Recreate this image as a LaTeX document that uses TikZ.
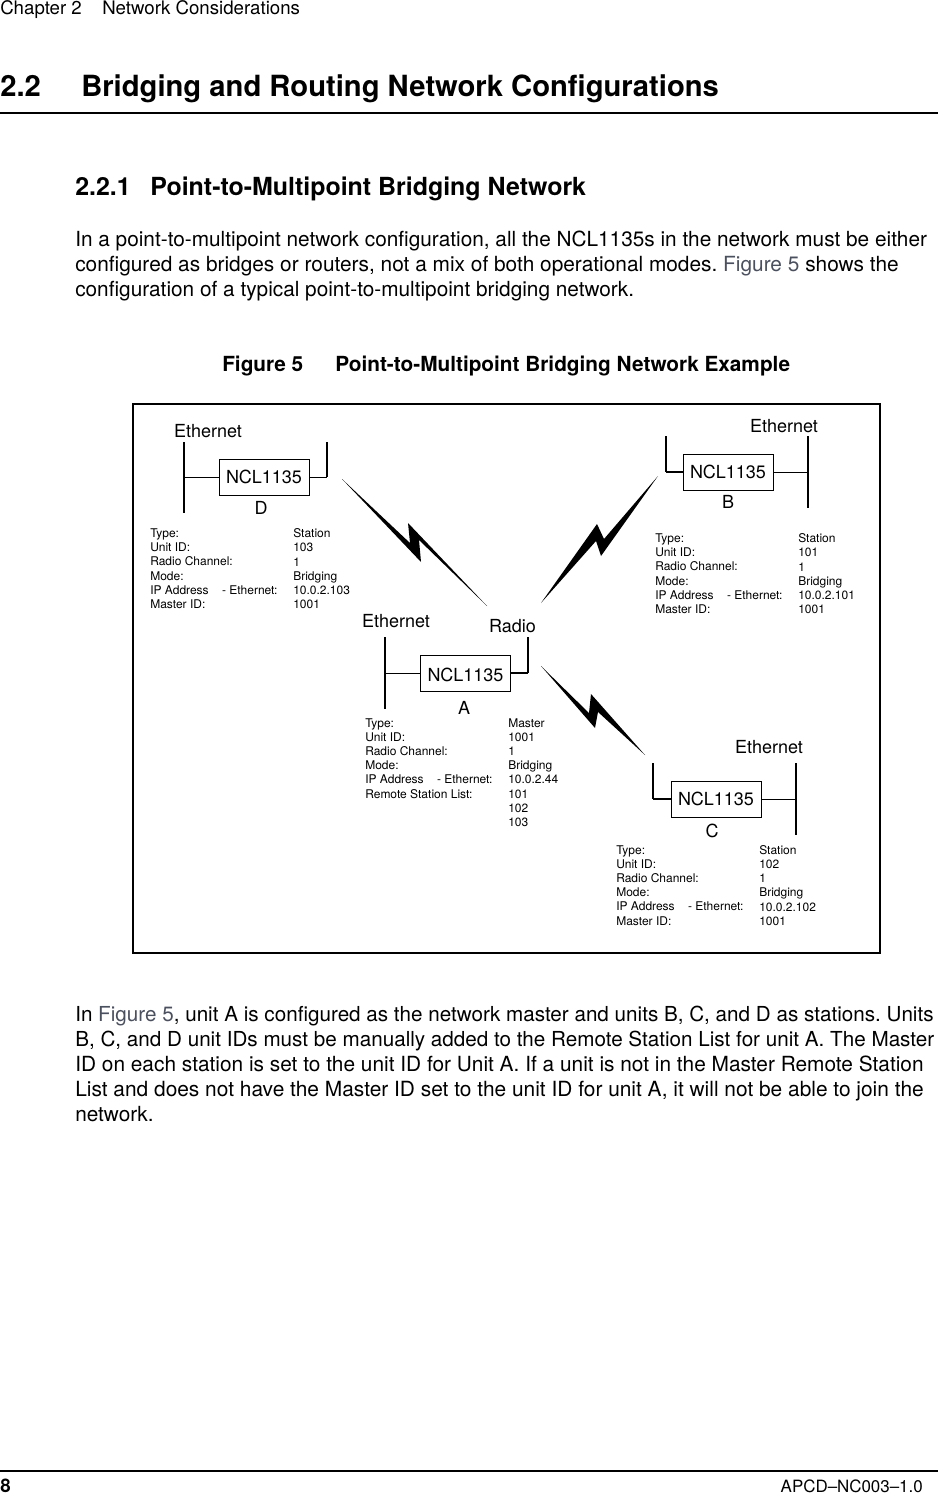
\documentclass[tikz,border=0pt]{standalone}
\usepackage{xcolor}
\usepackage{fontspec}
\setmainfont{TeX Gyre Heros}
\usepackage{tikz}
\usetikzlibrary{positioning}
\definecolor{figlink}{RGB}{75,80,95}
\newcommand{\bodyfont}{\fontsize{15.6}{19}\selectfont}
\newcommand{\infofont}{\fontsize{9}{10.65}\selectfont}
\newcommand{\unitfont}{\fontsize{13.5}{16}\selectfont}
\newcommand{\figref}{\textcolor{figlink}{Figure 5}}
\tikzset{
	pagetext/.style = {anchor = base west, inner sep = 0pt, font = \bodyfont},
	headtext/.style = {anchor = base west, inner sep = 0pt, font = \fontsize{15.6}{19}\selectfont\bfseries},
	unitbox/.style = {draw, line width = 0.75pt, minimum width = 67.5pt, minimum height = 27pt, inner sep = 0pt, font = \unitfont},
	unitlabel/.style = {inner sep = 0pt, font = \unitfont},
	infotext/.style = {anchor = north west, inner sep = 0pt, align = left, font = \infofont},
	busthick/.style = {line width = 1.9pt},
	busthin/.style = {line width = 1.1pt},
	stub/.style = {line width = 0.75pt},
	stubthick/.style = {line width = 1.6pt},
	bolt/.style = {fill = black, draw = none}
}
\begin{document}
\frenchspacing
\begin{tikzpicture}[x = 0.75pt, y = -0.75pt]
	\useasboundingbox (0,0) rectangle (938,1494);

	% page head
	\node[pagetext, font = \fontsize{14}{16}\selectfont] (chapter) at (0,15) {Chapter 2};
	\node[pagetext, font = \fontsize{14}{16}\selectfont] (chaptername) at (102,15) {Network Considerations};
	\node[headtext, font = \fontsize{21.9}{26}\selectfont\bfseries] (secnum) at (0,97) {2.2};
	\node[headtext, font = \fontsize{21.9}{26}\selectfont\bfseries] (sectitle) at (81,97) {Bridging and Routing Network Configurations};
	\draw[line width = 1.5pt] (0,113) -- (938,113);

	\node[headtext, font = \fontsize{18.7}{22}\selectfont\bfseries] (subnum) at (75,195.5) {2.2.1};
	\node[headtext, font = \fontsize{18.7}{22}\selectfont\bfseries] (subtitle) at (150,195.5) {Point-to-Multipoint Bridging Network};

	\node[pagetext] (topa) at (75,247) {In a point-to-multipoint network configuration, all the NCL1135s in the network must be either};
	\node[pagetext, font = \fontsize{15.64}{19}\selectfont] (topb) at (75,272) {configured as bridges or routers, not a mix of both operational modes. \figref{} shows the};
	\node[pagetext] (topc) at (75,297) {configuration of a typical point-to-multipoint bridging network.};

	\node[headtext] (fignum) at (222,371.5) {Figure 5};
	\node[headtext] (figtitle) at (335,371.5) {Point-to-Multipoint Bridging Network Example};

	% frame
	\draw[line width = 1.9pt] (133,404) rectangle (880,953);

	% unit D
	\node[unitbox] (boxd) at (264,477) {NCL1135};
	\node[unitlabel] (labd) at (261,508) {D};
	\node[unitlabel] (ethd) at (208,431) {Ethernet};
	\coordinate (dlefttop) at (184,442);
	\coordinate (dleftmid) at (184,477);
	\coordinate (dleftbot) at (184,513);
	\coordinate (drighttop) at (327,442);
	\coordinate (drightbot) at (327,477);
	\draw[busthick] (dlefttop) -- (dleftbot);
	\draw[busthick] (drighttop) -- (drightbot);
	\draw[stub] (dleftmid) -- (boxd.west);
	\draw[stub] (boxd.east) -- (drightbot);
	\node[infotext] (keysd) at (150,528.5) {Type:\\Unit ID:\\Radio Channel:\\Mode:\\IP Address\hspace{10pt}- Ethernet:\\Master ID:};
	\node[infotext] (valsd) at (293,528.5) {Station\\103\\1\\Bridging\\10.0.2.103\\1001};

	% unit B
	\node[unitbox] (boxb) at (728,472) {NCL1135};
	\node[unitlabel] (labb) at (728,502) {B};
	\node[unitlabel] (ethb) at (784,426) {Ethernet};
	\coordinate (blefttop) at (666,436);
	\coordinate (bleftbot) at (666,472);
	\coordinate (brighttop) at (808,436);
	\coordinate (brightmid) at (808,472);
	\coordinate (brightbot) at (808,508);
	\draw[busthin] (blefttop) -- (bleftbot);
	\draw[busthin] (brighttop) -- (brightbot);
	\draw[stubthick] (bleftbot) -- (boxb.west);
	\draw[stub] (boxb.east) -- (brightmid);
	\node[infotext] (keysb) at (655,533.5) {Type:\\Unit ID:\\Radio Channel:\\Mode:\\IP Address\hspace{10pt}- Ethernet:\\Master ID:};
	\node[infotext] (valsb) at (798,533.5) {Station\\101\\1\\Bridging\\10.0.2.101\\1001};

	% unit A
	\node[unitbox, text height = 12.6pt] (boxa) at (465.5,673) {NCL1135};
	\node[unitlabel] (laba) at (464,708) {A};
	\node[unitlabel] (etha) at (396,621) {Ethernet};
	\node[unitlabel] (radio) at (512.5,626) {Radio};
	\coordinate (alefttop) at (385,637);
	\coordinate (aleftmid) at (385,673);
	\coordinate (aleftbot) at (385,709);
	\coordinate (arighttop) at (528,637);
	\coordinate (arightbot) at (528,673);
	\draw[busthick] (alefttop) -- (aleftbot);
	\draw[busthick] (arighttop) -- (arightbot);
	\draw[stub] (aleftmid) -- (boxa.west);
	\draw[stubthick] (boxa.east) -- (arightbot);
	\node[infotext] (keysa) at (365,718) {Type:\\Unit ID:\\Radio Channel:\\Mode:\\IP Address\hspace{10pt}- Ethernet:\\Remote Station List:};
	\node[infotext] (valsa) at (508,718) {Master\\1001\\1\\Bridging\\10.0.2.44\\101\\102\\103};

	% unit C
	\node[unitbox] (boxc) at (716,799) {NCL1135};
	\node[unitlabel] (labc) at (712,831) {C};
	\node[unitlabel] (ethc) at (769,747) {Ethernet};
	\coordinate (clefttop) at (653,763);
	\coordinate (cleftbot) at (653,799);
	\coordinate (crighttop) at (796,763);
	\coordinate (crightmid) at (796,799);
	\coordinate (crightbot) at (796,835);
	\draw[busthick] (clefttop) -- (cleftbot);
	\draw[busthick] (crighttop) -- (crightbot);
	\draw[stubthick] (cleftbot) -- (boxc.west);
	\draw[stub] (boxc.east) -- (crightmid);
	\node[infotext] (keysc) at (616,845) {Type:\\Unit ID:\\Radio Channel:\\Mode:\\IP Address\hspace{10pt}- Ethernet:\\Master ID:};
	\node[infotext] (valsc) at (759,845) {Station\\102\\1\\Bridging\\10.0.2.102\\1001};

	% radio links
	\fill[bolt] (342,479) -- (410,543) -- (408,523) -- (487,606) -- (419,540) -- (421,562) -- cycle;
	\fill[bolt] (541,603) -- (597,524) -- (604,539) -- (658,476) -- (601,556) -- (596,541) -- cycle;
	\fill[bolt] (541,666) -- (589,713) -- (591,694) -- (645,755) -- (598,712) -- (595,728) -- cycle;

	% text under the figure
	\node[pagetext, font = \fontsize{15.49}{19}\selectfont] (lowa) at (75,1021) {In \figref{}, unit A is configured as the network master and units B, C, and D as stations. Units};
	\node[pagetext, font = \fontsize{15.49}{19}\selectfont] (lowb) at (75,1046) {B, C, and D unit IDs must be manually added to the Remote Station List for unit A. The Master};
	\node[pagetext, font = \fontsize{15.64}{19}\selectfont] (lowc) at (75,1071.5) {ID on each station is set to the unit ID for Unit A. If a unit is not in the Master Remote Station};
	\node[pagetext, font = \fontsize{15.67}{19}\selectfont] (lowd) at (75,1096.5) {List and does not have the Master ID set to the unit ID for unit A, it will not be able to join the};
	\node[pagetext] (lowe) at (75,1121) {network.};

	% page foot
	\draw[line width = 1.5pt] (0,1471) -- (938,1471);
	\node[headtext, font = \fontsize{14}{16}\selectfont\bfseries] (pagenum) at (0,1492) {8};
	\node[pagetext, anchor = base east, font = \fontsize{12.7}{16}\selectfont] (docnum) at (923,1492) {APCD--NC003--1.0};
\end{tikzpicture}
\end{document}
